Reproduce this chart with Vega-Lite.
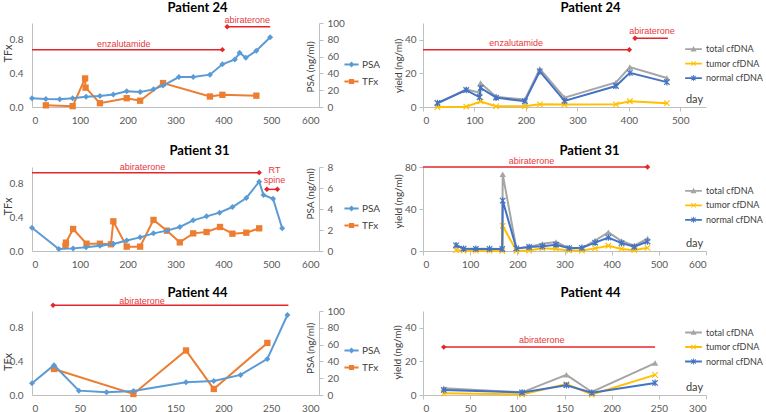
{
  "$schema": "https://vega.github.io/schema/vega-lite/v6.json",
  "padding": {"left": 2, "top": 1, "right": 0, "bottom": 0},
  "background": "white",
  "columns": 2,
  "bounds": "flush",
  "spacing": {"row": 60, "column": 104},
  "resolve": {"scale": {"color": "independent", "shape": "independent"}, "legend": {"color": "independent", "shape": "independent"}},
  "datasets": {
    "kL": [{"s": "PSA"}, {"s": "TFx"}],
    "kR": [{"s": "total cfDNA"}, {"s": "tumor cfDNA"}, {"s": "normal cfDNA"}],
    "l24": [
      {"s":"PSA","day":0,"v":10.3},{"s":"PSA","day":29,"v":9.5},{"s":"PSA","day":58,"v":9.3},{"s":"PSA","day":85,"v":10.3},{"s":"PSA","day":113,"v":12.3},{"s":"PSA","day":142,"v":13},{"s":"PSA","day":170,"v":14.8},{"s":"PSA","day":198,"v":18.8},{"s":"PSA","day":226,"v":18},{"s":"PSA","day":254,"v":21},{"s":"PSA","day":274,"v":25.5},{"s":"PSA","day":307,"v":35.7},{"s":"PSA","day":337,"v":35.7},{"s":"PSA","day":372,"v":38.5},{"s":"PSA","day":398,"v":50.8},{"s":"PSA","day":424,"v":56.5},{"s":"PSA","day":434,"v":64.5},{"s":"PSA","day":447,"v":58.5},{"s":"PSA","day":469,"v":67},{"s":"PSA","day":498,"v":83},
      {"s":"TFx","day":29,"v":0.02},{"s":"TFx","day":85,"v":0.01},{"s":"TFx","day":111,"v":0.34},{"s":"TFx","day":112,"v":0.23},{"s":"TFx","day":142,"v":0.045},{"s":"TFx","day":198,"v":0.105},{"s":"TFx","day":226,"v":0.075},{"s":"TFx","day":274,"v":0.285},{"s":"TFx","day":372,"v":0.125},{"s":"TFx","day":398,"v":0.145},{"s":"TFx","day":469,"v":0.135}
    ],
    "r24": [
      {"s":"total cfDNA","day":28,"v":2},{"s":"total cfDNA","day":84,"v":10.5},{"s":"total cfDNA","day":110,"v":8.5},{"s":"total cfDNA","day":112,"v":14.3},{"s":"total cfDNA","day":142,"v":6.1},{"s":"total cfDNA","day":198,"v":4.4},{"s":"total cfDNA","day":227,"v":22.8},{"s":"total cfDNA","day":275,"v":5.6},{"s":"total cfDNA","day":375,"v":14.6},{"s":"total cfDNA","day":402,"v":23.8},{"s":"total cfDNA","day":474,"v":17.3},
      {"s":"tumor cfDNA","day":28,"v":0},{"s":"tumor cfDNA","day":84,"v":0.2},{"s":"tumor cfDNA","day":112,"v":3.3},{"s":"tumor cfDNA","day":142,"v":0.4},{"s":"tumor cfDNA","day":198,"v":0.5},{"s":"tumor cfDNA","day":227,"v":1.6},{"s":"tumor cfDNA","day":275,"v":1.5},{"s":"tumor cfDNA","day":375,"v":1.6},{"s":"tumor cfDNA","day":402,"v":3.4},{"s":"tumor cfDNA","day":474,"v":2.3},
      {"s":"normal cfDNA","day":28,"v":2.4},{"s":"normal cfDNA","day":84,"v":10.1},{"s":"normal cfDNA","day":110,"v":5.8},{"s":"normal cfDNA","day":112,"v":11.3},{"s":"normal cfDNA","day":142,"v":5.6},{"s":"normal cfDNA","day":198,"v":3.4},{"s":"normal cfDNA","day":227,"v":21.2},{"s":"normal cfDNA","day":275,"v":3.6},{"s":"normal cfDNA","day":375,"v":12.5},{"s":"normal cfDNA","day":402,"v":20.3},{"s":"normal cfDNA","day":474,"v":14.8}
    ],
    "l31": [
      {"s":"PSA","day":0,"v":2.22},{"s":"PSA","day":56,"v":0.19},{"s":"PSA","day":86,"v":0.25},{"s":"PSA","day":113,"v":0.35},{"s":"PSA","day":142,"v":0.5},{"s":"PSA","day":170,"v":0.67},{"s":"PSA","day":198,"v":1.0},{"s":"PSA","day":226,"v":1.3},{"s":"PSA","day":254,"v":1.68},{"s":"PSA","day":282,"v":1.94},{"s":"PSA","day":309,"v":2.29},{"s":"PSA","day":337,"v":2.92},{"s":"PSA","day":365,"v":3.3},{"s":"PSA","day":392,"v":3.65},{"s":"PSA","day":419,"v":4.19},{"s":"PSA","day":448,"v":5.05},{"s":"PSA","day":475,"v":6.6},{"s":"PSA","day":484,"v":5.33},{"s":"PSA","day":504,"v":4.98},{"s":"PSA","day":523,"v":2.16},
      {"s":"TFx","day":70,"v":0.06},{"s":"TFx","day":71,"v":0.1},{"s":"TFx","day":86,"v":0.262},{"s":"TFx","day":114,"v":0.087},{"s":"TFx","day":142,"v":0.087},{"s":"TFx","day":165,"v":0.08},{"s":"TFx","day":170,"v":0.353},{"s":"TFx","day":198,"v":0.052},{"s":"TFx","day":226,"v":0.052},{"s":"TFx","day":254,"v":0.37},{"s":"TFx","day":282,"v":0.242},{"s":"TFx","day":309,"v":0.103},{"s":"TFx","day":337,"v":0.21},{"s":"TFx","day":365,"v":0.226},{"s":"TFx","day":393,"v":0.286},{"s":"TFx","day":419,"v":0.206},{"s":"TFx","day":448,"v":0.218},{"s":"TFx","day":475,"v":0.27}
    ],
    "r31": [
      {"s":"total cfDNA","day":70,"v":6},{"s":"total cfDNA","day":86,"v":2.5},{"s":"total cfDNA","day":112,"v":2.2},{"s":"total cfDNA","day":141,"v":2.2},{"s":"total cfDNA","day":168,"v":2},{"s":"total cfDNA","day":169,"v":73},{"s":"total cfDNA","day":198,"v":2.5},{"s":"total cfDNA","day":225,"v":3.8},{"s":"total cfDNA","day":253,"v":7},{"s":"total cfDNA","day":282,"v":8.5},{"s":"total cfDNA","day":310,"v":2.7},{"s":"total cfDNA","day":337,"v":3},{"s":"total cfDNA","day":365,"v":10},{"s":"total cfDNA","day":393,"v":17.8},{"s":"total cfDNA","day":421,"v":9.5},{"s":"total cfDNA","day":448,"v":5},{"s":"total cfDNA","day":476,"v":11.8},
      {"s":"tumor cfDNA","day":70,"v":0.8},{"s":"tumor cfDNA","day":86,"v":0.5},{"s":"tumor cfDNA","day":112,"v":0.3},{"s":"tumor cfDNA","day":141,"v":0.3},{"s":"tumor cfDNA","day":168,"v":0.2},{"s":"tumor cfDNA","day":169,"v":24},{"s":"tumor cfDNA","day":198,"v":0.2},{"s":"tumor cfDNA","day":225,"v":0.5},{"s":"tumor cfDNA","day":253,"v":2.5},{"s":"tumor cfDNA","day":282,"v":2},{"s":"tumor cfDNA","day":310,"v":0.5},{"s":"tumor cfDNA","day":337,"v":0.5},{"s":"tumor cfDNA","day":365,"v":2.5},{"s":"tumor cfDNA","day":393,"v":5},{"s":"tumor cfDNA","day":421,"v":2},{"s":"tumor cfDNA","day":448,"v":0.8},{"s":"tumor cfDNA","day":476,"v":3},
      {"s":"normal cfDNA","day":70,"v":5.4},{"s":"normal cfDNA","day":86,"v":2.2},{"s":"normal cfDNA","day":112,"v":2},{"s":"normal cfDNA","day":141,"v":2},{"s":"normal cfDNA","day":168,"v":1.9},{"s":"normal cfDNA","day":169,"v":48},{"s":"normal cfDNA","day":198,"v":2.5},{"s":"normal cfDNA","day":225,"v":3.8},{"s":"normal cfDNA","day":253,"v":4.5},{"s":"normal cfDNA","day":282,"v":6},{"s":"normal cfDNA","day":310,"v":2.7},{"s":"normal cfDNA","day":337,"v":3},{"s":"normal cfDNA","day":365,"v":8},{"s":"normal cfDNA","day":393,"v":12.8},{"s":"normal cfDNA","day":421,"v":7.5},{"s":"normal cfDNA","day":448,"v":4},{"s":"normal cfDNA","day":476,"v":9}
    ],
    "l44": [
      {"s":"PSA","day":0,"v":14},{"s":"PSA","day":23,"v":35.5},{"s":"PSA","day":49,"v":5.2},{"s":"PSA","day":78,"v":3.2},{"s":"PSA","day":106,"v":4.8},{"s":"PSA","day":161,"v":15.1},{"s":"PSA","day":190,"v":16.7},{"s":"PSA","day":218,"v":23.9},{"s":"PSA","day":246,"v":43},{"s":"PSA","day":267,"v":95.2},
      {"s":"TFx","day":23,"v":0.31},{"s":"TFx","day":106,"v":0.012},{"s":"TFx","day":161,"v":0.53},{"s":"TFx","day":190,"v":0.072},{"s":"TFx","day":246,"v":0.62}
    ],
    "r44": [
      {"s":"total cfDNA","day":22,"v":4},{"s":"total cfDNA","day":105,"v":1.6},{"s":"total cfDNA","day":152,"v":12},{"s":"total cfDNA","day":179,"v":1.8},{"s":"total cfDNA","day":246,"v":19},
      {"s":"tumor cfDNA","day":22,"v":1},{"s":"tumor cfDNA","day":105,"v":0.3},{"s":"tumor cfDNA","day":152,"v":6.5},{"s":"tumor cfDNA","day":179,"v":0.3},{"s":"tumor cfDNA","day":246,"v":12},
      {"s":"normal cfDNA","day":22,"v":3},{"s":"normal cfDNA","day":105,"v":1.5},{"s":"normal cfDNA","day":152,"v":5.8},{"s":"normal cfDNA","day":179,"v":1.3},{"s":"normal cfDNA","day":246,"v":7.2}
    ]
  },
  "concat": [
    {
      "width": 287, "height": 84,
      "title": {"text": "Patient 24", "dx": 22, "offset": 1, "anchor": "middle", "frame": "group"},
      "layer": [
        {"layer": [
          {"data": {"name": "l24"}, "transform": [{"filter": {"field": "s", "equal": "TFx"}}],
           "mark": {"type": "line", "color": "#ed7d31", "strokeWidth": 2, "point": {"shape": "square", "size": 40, "filled": true, "color": "#ed7d31"}},
           "encoding": {
             "x": {"field": "day", "type": "quantitative", "scale": {"domain": [0, 600], "nice": false}, "axis": {"values": [0,100,200,300,400,500,600], "title": null, "ticks": false, "tickSize": 0, "labelPadding": 8, "labelOverlap": false}},
             "y": {"field": "v", "type": "quantitative", "scale": {"domain": [0, 1], "nice": false}, "axis": {"values": [0,0.2,0.4,0.6,0.8,1], "format": ".1f", "title": "TFx", "ticks": false, "tickSize": 0, "labelPadding": 9, "labelOverlap": false, "titleX": -23.5, "titleY": 30, "titleAngle": 270, "titleAlign": "center", "titleBaseline": "middle", "titleFontSize": 11}}
           }},
          {"data": {"values": [{"a": 0, "b": 398, "lv": 0.683}, {"a": 408, "b": 498, "lv": 0.956}]},
           "mark": {"type": "rule", "color": "#e3262a", "strokeWidth": 1.5},
           "encoding": {"x": {"field": "a", "type": "quantitative"}, "x2": {"field": "b"}, "y": {"field": "lv", "type": "quantitative"}}},
          {"data": {"values": [{"a": 398, "lv": 0.683}, {"a": 408, "lv": 0.956}]},
           "mark": {"type": "point", "shape": "diamond", "filled": true, "color": "#e3262a", "size": 30, "opacity": 1},
           "encoding": {"x": {"field": "a", "type": "quantitative"}, "y": {"field": "lv", "type": "quantitative"}}},
          {"data": {"values": [{"t": "enzalutamide", "a": 192, "lv": 0.75}, {"t": "abiraterone", "a": 450, "lv": 1.04}]},
           "mark": {"type": "text", "color": "#e8383d", "font": "Liberation Sans", "fontSize": 9, "baseline": "middle"},
           "encoding": {"x": {"field": "a", "type": "quantitative"}, "y": {"field": "lv", "type": "quantitative"}, "text": {"field": "t", "type": "nominal"}}},
          {"data": {"name": "kL"},
           "mark": {"type": "point", "filled": true, "opacity": 0},
           "encoding": {
             "color": {"field": "s", "type": "nominal", "scale": {"domain": ["PSA", "TFx"], "range": ["#5b9bd5", "#ed7d31"]},
               "legend": {"orient": "none", "legendX": 312, "legendY": 34, "title": null, "labelFontSize": 10, "labelColor": "#404040", "symbolSize": 200, "symbolOpacity": 1, "symbolStrokeWidth": 0, "rowPadding": 4, "labelOffset": 3}},
             "shape": {"field": "s", "type": "nominal", "scale": {"domain": ["PSA", "TFx"], "range": ["M-1,-0.14H1V0.14H-1ZM0,-0.42L0.42,0L0,0.42L-0.42,0Z", "M-1,-0.14H1V0.14H-1ZM-0.36,-0.36H0.36V0.36H-0.36Z"]},
               "legend": {"orient": "none", "legendX": 312, "legendY": 34, "title": null, "labelFontSize": 10, "labelColor": "#404040", "symbolSize": 200, "symbolOpacity": 1, "symbolStrokeWidth": 0, "rowPadding": 4, "labelOffset": 3}}
           }}
        ]},
        {"data": {"name": "l24"}, "transform": [{"filter": {"field": "s", "equal": "PSA"}}],
         "mark": {"type": "line", "color": "#5b9bd5", "strokeWidth": 2, "point": {"shape": "diamond", "size": 36, "filled": true, "color": "#5b9bd5"}},
         "encoding": {
           "x": {"field": "day", "type": "quantitative"},
           "y": {"field": "v", "type": "quantitative", "scale": {"domain": [0, 100], "nice": false}, "axis": {"orient": "right", "values": [0,20,40,60,80,100], "title": "PSA (ng/ml)", "labelPadding": 4, "labelOverlap": false, "titleX": -9, "titleY": 43.5, "titleAngle": 270, "titleAlign": "center", "titleBaseline": "middle"}}
         }}
      ],
      "resolve": {"scale": {"y": "independent"}}
    },
    {
      "width": 283, "height": 84,
      "title": {"text": "Patient 24", "dx": 26, "offset": 8, "anchor": "middle", "frame": "group"},
      "layer": [
        {"data": {"name": "r24"}, "transform": [{"filter": {"field": "s", "equal": "total cfDNA"}}],
         "mark": {"type": "line", "color": "#a5a5a5", "strokeWidth": 2, "point": {"shape": "triangle-up", "size": 40, "filled": true, "color": "#a5a5a5"}},
         "encoding": {
           "x": {"field": "day", "type": "quantitative", "scale": {"domain": [0, 550], "nice": false}, "axis": {"values": [0,100,200,300,400,500], "title": "day", "labelPadding": 4, "labelOverlap": false, "titleX": 271, "titleY": -8, "titleAlign": "center", "titleBaseline": "middle", "titleFontSize": 11}},
           "y": {"field": "v", "type": "quantitative", "scale": {"domain": [0, 50], "nice": false}, "axis": {"values": [0,10,20,30,40,50], "labelOverlap": false, "title": "yield (ng/ml)", "titleX": -25, "titleY": 42.5, "titleAngle": 270, "titleAlign": "center", "titleBaseline": "middle"}}
         }},
        {"data": {"name": "r24"}, "transform": [{"filter": {"field": "s", "equal": "tumor cfDNA"}}],
         "mark": {"type": "line", "color": "#ffc000", "strokeWidth": 2, "point": {"shape": "M-1,-1L1,1M-1,1L1,-1", "size": 30, "filled": false, "strokeWidth": 1.2, "color": "#ffc000"}},
         "encoding": {"x": {"field": "day", "type": "quantitative"}, "y": {"field": "v", "type": "quantitative"}}},
        {"data": {"name": "r24"}, "transform": [{"filter": {"field": "s", "equal": "normal cfDNA"}}],
         "mark": {"type": "line", "color": "#4472c4", "strokeWidth": 2, "point": {"shape": "M-1,-1L1,1M-1,1L1,-1M0,-1.2V1.2", "size": 30, "filled": false, "strokeWidth": 1.2, "color": "#4472c4"}},
         "encoding": {"x": {"field": "day", "type": "quantitative"}, "y": {"field": "v", "type": "quantitative"}}},
        {"data": {"values": [{"a": 0, "b": 401, "lv": 34.1}, {"a": 412, "b": 476, "lv": 40.9}]},
         "mark": {"type": "rule", "color": "#e3262a", "strokeWidth": 1.5},
         "encoding": {"x": {"field": "a", "type": "quantitative"}, "x2": {"field": "b"}, "y": {"field": "lv", "type": "quantitative"}}},
        {"data": {"values": [{"a": 401, "lv": 34.1}, {"a": 412, "lv": 40.9}]},
         "mark": {"type": "point", "shape": "diamond", "filled": true, "color": "#e3262a", "size": 30, "opacity": 1},
         "encoding": {"x": {"field": "a", "type": "quantitative"}, "y": {"field": "lv", "type": "quantitative"}}},
        {"data": {"values": [{"t": "enzalutamide", "a": 181, "lv": 38.1}, {"t": "abiraterone", "a": 445, "lv": 45.4}]},
         "mark": {"type": "text", "color": "#e8383d", "font": "Liberation Sans", "fontSize": 9, "baseline": "middle"},
         "encoding": {"x": {"field": "a", "type": "quantitative"}, "y": {"field": "lv", "type": "quantitative"}, "text": {"field": "t", "type": "nominal"}}},
        {"data": {"name": "kR"},
         "mark": {"type": "point", "filled": true, "opacity": 0},
         "encoding": {
           "color": {"field": "s", "type": "nominal", "scale": {"domain": ["total cfDNA", "tumor cfDNA", "normal cfDNA"], "range": ["#a5a5a5", "#ffc000", "#4472c4"]},
             "legend": {"orient": "none", "legendX": 262, "legendY": 17.6, "title": null, "labelFontSize": 9, "labelColor": "#404040", "symbolSize": 280, "symbolOpacity": 1, "symbolStrokeWidth": 0, "rowPadding": 0.5, "labelOffset": 4}},
           "shape": {"field": "s", "type": "nominal", "scale": {"domain": ["total cfDNA", "tumor cfDNA", "normal cfDNA"], "range": ["M-1,-0.11H1V0.11H-1ZM0,-0.36L0.36,0.28H-0.36Z", "M-1,-0.11H1V0.11H-1ZM-0.3,-0.22L-0.22,-0.3L0.3,0.22L0.22,0.3ZM0.22,-0.3L0.3,-0.22L-0.22,0.3L-0.3,0.22Z", "M-1,-0.11H1V0.11H-1ZM-0.3,-0.22L-0.22,-0.3L0.3,0.22L0.22,0.3ZM0.22,-0.3L0.3,-0.22L-0.22,0.3L-0.3,0.22ZM-0.05,-0.36H0.05V0.36H-0.05Z"]},
             "legend": {"orient": "none", "legendX": 262, "legendY": 17.6, "title": null, "labelFontSize": 9, "labelColor": "#404040", "symbolSize": 280, "symbolOpacity": 1, "symbolStrokeWidth": 0, "rowPadding": 0.5, "labelOffset": 4}}
         }}
      ]
    },
    {
      "width": 287, "height": 84,
      "title": {"text": "Patient 31", "dx": 24, "offset": 4, "anchor": "middle", "frame": "group"},
      "layer": [
        {"layer": [
          {"data": {"name": "l31"}, "transform": [{"filter": {"field": "s", "equal": "TFx"}}],
           "mark": {"type": "line", "color": "#ed7d31", "strokeWidth": 2, "point": {"shape": "square", "size": 40, "filled": true, "color": "#ed7d31"}},
           "encoding": {
             "x": {"field": "day", "type": "quantitative", "scale": {"domain": [0, 600], "nice": false}, "axis": {"values": [0,100,200,300,400,500,600], "title": null, "ticks": false, "tickSize": 0, "labelPadding": 8, "labelOverlap": false}},
             "y": {"field": "v", "type": "quantitative", "scale": {"domain": [0, 1], "nice": false}, "axis": {"values": [0,0.2,0.4,0.6,0.8,1], "format": ".1f", "title": "TFx", "ticks": false, "tickSize": 0, "labelPadding": 9, "labelOverlap": false, "titleX": -23.5, "titleY": 39, "titleAngle": 270, "titleAlign": "center", "titleBaseline": "middle", "titleFontSize": 11}}
           }},
          {"data": {"values": [{"a": 0, "b": 475, "lv": 0.933}, {"a": 491, "b": 513, "lv": 0.734}]},
           "mark": {"type": "rule", "color": "#e3262a", "strokeWidth": 1.5},
           "encoding": {"x": {"field": "a", "type": "quantitative"}, "x2": {"field": "b"}, "y": {"field": "lv", "type": "quantitative"}}},
          {"data": {"values": [{"a": 475, "lv": 0.933}, {"a": 491, "lv": 0.734}, {"a": 513, "lv": 0.734}]},
           "mark": {"type": "point", "shape": "diamond", "filled": true, "color": "#e3262a", "size": 30, "opacity": 1},
           "encoding": {"x": {"field": "a", "type": "quantitative"}, "y": {"field": "lv", "type": "quantitative"}}},
          {"data": {"values": [{"t": "abiraterone", "a": 231, "lv": 0.996}, {"t": "RT", "a": 507, "lv": 0.968}, {"t": "spine", "a": 507, "lv": 0.845}]},
           "mark": {"type": "text", "color": "#e8383d", "font": "Liberation Sans", "fontSize": 9, "baseline": "middle"},
           "encoding": {"x": {"field": "a", "type": "quantitative"}, "y": {"field": "lv", "type": "quantitative"}, "text": {"field": "t", "type": "nominal"}}},
          {"data": {"name": "kL"},
           "mark": {"type": "point", "filled": true, "opacity": 0},
           "encoding": {
             "color": {"field": "s", "type": "nominal", "scale": {"domain": ["PSA", "TFx"], "range": ["#5b9bd5", "#ed7d31"]},
               "legend": {"orient": "none", "legendX": 312, "legendY": 34, "title": null, "labelFontSize": 10, "labelColor": "#404040", "symbolSize": 200, "symbolOpacity": 1, "symbolStrokeWidth": 0, "rowPadding": 4, "labelOffset": 3}},
             "shape": {"field": "s", "type": "nominal", "scale": {"domain": ["PSA", "TFx"], "range": ["M-1,-0.14H1V0.14H-1ZM0,-0.42L0.42,0L0,0.42L-0.42,0Z", "M-1,-0.14H1V0.14H-1ZM-0.36,-0.36H0.36V0.36H-0.36Z"]},
               "legend": {"orient": "none", "legendX": 312, "legendY": 34, "title": null, "labelFontSize": 10, "labelColor": "#404040", "symbolSize": 200, "symbolOpacity": 1, "symbolStrokeWidth": 0, "rowPadding": 4, "labelOffset": 3}}
           }}
        ]},
        {"data": {"name": "l31"}, "transform": [{"filter": {"field": "s", "equal": "PSA"}}],
         "mark": {"type": "line", "color": "#5b9bd5", "strokeWidth": 2, "point": {"shape": "diamond", "size": 36, "filled": true, "color": "#5b9bd5"}},
         "encoding": {
           "x": {"field": "day", "type": "quantitative"},
           "y": {"field": "v", "type": "quantitative", "scale": {"domain": [0, 8], "nice": false}, "axis": {"orient": "right", "values": [0,2,4,6,8], "title": "PSA (ng/ml)", "labelPadding": 4, "labelOverlap": false, "titleX": -9, "titleY": 26.5, "titleAngle": 270, "titleAlign": "center", "titleBaseline": "middle"}}
         }}
      ],
      "resolve": {"scale": {"y": "independent"}}
    },
    {
      "width": 283, "height": 84,
      "title": {"text": "Patient 31", "dx": 25, "offset": -1, "anchor": "middle", "frame": "group"},
      "layer": [
        {"data": {"name": "r31"}, "transform": [{"filter": {"field": "s", "equal": "total cfDNA"}}],
         "mark": {"type": "line", "color": "#a5a5a5", "strokeWidth": 2, "point": {"shape": "triangle-up", "size": 40, "filled": true, "color": "#a5a5a5"}},
         "encoding": {
           "x": {"field": "day", "type": "quantitative", "scale": {"domain": [0, 600], "nice": false}, "axis": {"values": [0,100,200,300,400,500,600], "title": "day", "labelPadding": 4, "labelOverlap": false, "titleX": 271, "titleY": -8, "titleAlign": "center", "titleBaseline": "middle", "titleFontSize": 11}},
           "y": {"field": "v", "type": "quantitative", "scale": {"domain": [0, 80], "nice": false}, "axis": {"values": [0,20,40,60,80], "labelOverlap": false, "title": "yield (ng/ml)", "titleX": -25, "titleY": 34, "titleAngle": 270, "titleAlign": "center", "titleBaseline": "middle"}}
         }},
        {"data": {"name": "r31"}, "transform": [{"filter": {"field": "s", "equal": "tumor cfDNA"}}],
         "mark": {"type": "line", "color": "#ffc000", "strokeWidth": 2, "point": {"shape": "M-1,-1L1,1M-1,1L1,-1", "size": 30, "filled": false, "strokeWidth": 1.2, "color": "#ffc000"}},
         "encoding": {"x": {"field": "day", "type": "quantitative"}, "y": {"field": "v", "type": "quantitative"}}},
        {"data": {"name": "r31"}, "transform": [{"filter": {"field": "s", "equal": "normal cfDNA"}}],
         "mark": {"type": "line", "color": "#4472c4", "strokeWidth": 2, "point": {"shape": "M-1,-1L1,1M-1,1L1,-1M0,-1.2V1.2", "size": 30, "filled": false, "strokeWidth": 1.2, "color": "#4472c4"}},
         "encoding": {"x": {"field": "day", "type": "quantitative"}, "y": {"field": "v", "type": "quantitative"}}},
        {"data": {"values": [{"a": 0, "b": 476, "lv": 80}]},
         "mark": {"type": "rule", "color": "#e3262a", "strokeWidth": 1.5},
         "encoding": {"x": {"field": "a", "type": "quantitative"}, "x2": {"field": "b"}, "y": {"field": "lv", "type": "quantitative"}}},
        {"data": {"values": [{"a": 476, "lv": 80}]},
         "mark": {"type": "point", "shape": "diamond", "filled": true, "color": "#e3262a", "size": 30, "opacity": 1},
         "encoding": {"x": {"field": "a", "type": "quantitative"}, "y": {"field": "lv", "type": "quantitative"}}},
        {"data": {"values": [{"t": "abiraterone", "a": 230, "lv": 85.4}]},
         "mark": {"type": "text", "color": "#e8383d", "font": "Liberation Sans", "fontSize": 9, "baseline": "middle"},
         "encoding": {"x": {"field": "a", "type": "quantitative"}, "y": {"field": "lv", "type": "quantitative"}, "text": {"field": "t", "type": "nominal"}}},
        {"data": {"name": "kR"},
         "mark": {"type": "point", "filled": true, "opacity": 0},
         "encoding": {
           "color": {"field": "s", "type": "nominal", "scale": {"domain": ["total cfDNA", "tumor cfDNA", "normal cfDNA"], "range": ["#a5a5a5", "#ffc000", "#4472c4"]},
             "legend": {"orient": "none", "legendX": 262, "legendY": 15.3, "title": null, "labelFontSize": 9, "labelColor": "#404040", "symbolSize": 280, "symbolOpacity": 1, "symbolStrokeWidth": 0, "rowPadding": 0.5, "labelOffset": 4}},
           "shape": {"field": "s", "type": "nominal", "scale": {"domain": ["total cfDNA", "tumor cfDNA", "normal cfDNA"], "range": ["M-1,-0.11H1V0.11H-1ZM0,-0.36L0.36,0.28H-0.36Z", "M-1,-0.11H1V0.11H-1ZM-0.3,-0.22L-0.22,-0.3L0.3,0.22L0.22,0.3ZM0.22,-0.3L0.3,-0.22L-0.22,0.3L-0.3,0.22Z", "M-1,-0.11H1V0.11H-1ZM-0.3,-0.22L-0.22,-0.3L0.3,0.22L0.22,0.3ZM0.22,-0.3L0.3,-0.22L-0.22,0.3L-0.3,0.22ZM-0.05,-0.36H0.05V0.36H-0.05Z"]},
             "legend": {"orient": "none", "legendX": 262, "legendY": 15.3, "title": null, "labelFontSize": 9, "labelColor": "#404040", "symbolSize": 280, "symbolOpacity": 1, "symbolStrokeWidth": 0, "rowPadding": 0.5, "labelOffset": 4}}
         }}
      ]
    },
    {
      "width": 287, "height": 84,
      "title": {"text": "Patient 44", "dx": 22, "offset": -3, "anchor": "middle", "frame": "group"},
      "layer": [
        {"layer": [
          {"data": {"name": "l44"}, "transform": [{"filter": {"field": "s", "equal": "TFx"}}],
           "mark": {"type": "line", "color": "#ed7d31", "strokeWidth": 2, "point": {"shape": "square", "size": 40, "filled": true, "color": "#ed7d31"}},
           "encoding": {
             "x": {"field": "day", "type": "quantitative", "scale": {"domain": [0, 300], "nice": false}, "axis": {"values": [0,50,100,150,200,250,300], "title": null, "ticks": false, "tickSize": 0, "labelPadding": 8, "labelOverlap": false}},
             "y": {"field": "v", "type": "quantitative", "scale": {"domain": [0, 1], "nice": false}, "axis": {"values": [0,0.2,0.4,0.6,0.8,1], "format": ".1f", "title": "TFx", "ticks": false, "tickSize": 0, "labelPadding": 9, "labelOverlap": false, "titleX": -23.5, "titleY": 50.5, "titleAngle": 270, "titleAlign": "center", "titleBaseline": "middle", "titleFontSize": 11}}
           }},
          {"data": {"values": [{"a": 22, "b": 268, "lv": 1.068}]},
           "mark": {"type": "rule", "color": "#e3262a", "strokeWidth": 1.5},
           "encoding": {"x": {"field": "a", "type": "quantitative"}, "x2": {"field": "b"}, "y": {"field": "lv", "type": "quantitative"}}},
          {"data": {"values": [{"a": 22, "lv": 1.068}]},
           "mark": {"type": "point", "shape": "diamond", "filled": true, "color": "#e3262a", "size": 30, "opacity": 1},
           "encoding": {"x": {"field": "a", "type": "quantitative"}, "y": {"field": "lv", "type": "quantitative"}}},
          {"data": {"values": [{"t": "abiraterone", "a": 115, "lv": 1.12}]},
           "mark": {"type": "text", "color": "#e8383d", "font": "Liberation Sans", "fontSize": 9, "baseline": "middle"},
           "encoding": {"x": {"field": "a", "type": "quantitative"}, "y": {"field": "lv", "type": "quantitative"}, "text": {"field": "t", "type": "nominal"}}},
          {"data": {"name": "kL"},
           "mark": {"type": "point", "filled": true, "opacity": 0},
           "encoding": {
             "color": {"field": "s", "type": "nominal", "scale": {"domain": ["PSA", "TFx"], "range": ["#5b9bd5", "#ed7d31"]},
               "legend": {"orient": "none", "legendX": 312, "legendY": 32, "title": null, "labelFontSize": 10, "labelColor": "#404040", "symbolSize": 200, "symbolOpacity": 1, "symbolStrokeWidth": 0, "rowPadding": 4, "labelOffset": 3}},
             "shape": {"field": "s", "type": "nominal", "scale": {"domain": ["PSA", "TFx"], "range": ["M-1,-0.14H1V0.14H-1ZM0,-0.42L0.42,0L0,0.42L-0.42,0Z", "M-1,-0.14H1V0.14H-1ZM-0.36,-0.36H0.36V0.36H-0.36Z"]},
               "legend": {"orient": "none", "legendX": 312, "legendY": 32, "title": null, "labelFontSize": 10, "labelColor": "#404040", "symbolSize": 200, "symbolOpacity": 1, "symbolStrokeWidth": 0, "rowPadding": 4, "labelOffset": 3}}
           }}
        ]},
        {"data": {"name": "l44"}, "transform": [{"filter": {"field": "s", "equal": "PSA"}}],
         "mark": {"type": "line", "color": "#5b9bd5", "strokeWidth": 2, "point": {"shape": "diamond", "size": 36, "filled": true, "color": "#5b9bd5"}},
         "encoding": {
           "x": {"field": "day", "type": "quantitative"},
           "y": {"field": "v", "type": "quantitative", "scale": {"domain": [0, 100], "nice": false}, "axis": {"orient": "right", "values": [0,20,40,60,80,100], "title": "PSA (ng/ml)", "labelPadding": 4, "labelOverlap": false, "titleX": -9, "titleY": 37, "titleAngle": 270, "titleAlign": "center", "titleBaseline": "middle"}}
         }}
      ],
      "resolve": {"scale": {"y": "independent"}}
    },
    {
      "width": 283, "height": 84,
      "title": {"text": "Patient 44", "dx": 26, "offset": 11, "anchor": "middle", "frame": "group"},
      "layer": [
        {"data": {"name": "r44"}, "transform": [{"filter": {"field": "s", "equal": "total cfDNA"}}],
         "mark": {"type": "line", "color": "#a5a5a5", "strokeWidth": 2, "point": {"shape": "triangle-up", "size": 40, "filled": true, "color": "#a5a5a5"}},
         "encoding": {
           "x": {"field": "day", "type": "quantitative", "scale": {"domain": [0, 300], "nice": false}, "axis": {"values": [0,50,100,150,200,250,300], "title": "day", "labelPadding": 4, "labelOverlap": false, "titleX": 271, "titleY": -8, "titleAlign": "center", "titleBaseline": "middle", "titleFontSize": 11}},
           "y": {"field": "v", "type": "quantitative", "scale": {"domain": [0, 50], "nice": false}, "axis": {"values": [0,10,20,30,40,50], "labelOverlap": false, "title": "yield (ng/ml)", "titleX": -26, "titleY": 41, "titleAngle": 270, "titleAlign": "center", "titleBaseline": "middle"}}
         }},
        {"data": {"name": "r44"}, "transform": [{"filter": {"field": "s", "equal": "tumor cfDNA"}}],
         "mark": {"type": "line", "color": "#ffc000", "strokeWidth": 2, "point": {"shape": "M-1,-1L1,1M-1,1L1,-1", "size": 30, "filled": false, "strokeWidth": 1.2, "color": "#ffc000"}},
         "encoding": {"x": {"field": "day", "type": "quantitative"}, "y": {"field": "v", "type": "quantitative"}}},
        {"data": {"name": "r44"}, "transform": [{"filter": {"field": "s", "equal": "normal cfDNA"}}],
         "mark": {"type": "line", "color": "#4472c4", "strokeWidth": 2, "point": {"shape": "M-1,-1L1,1M-1,1L1,-1M0,-1.2V1.2", "size": 30, "filled": false, "strokeWidth": 1.2, "color": "#4472c4"}},
         "encoding": {"x": {"field": "day", "type": "quantitative"}, "y": {"field": "v", "type": "quantitative"}}},
        {"data": {"values": [{"a": 22, "b": 246, "lv": 28.5}]},
         "mark": {"type": "rule", "color": "#e3262a", "strokeWidth": 1.5},
         "encoding": {"x": {"field": "a", "type": "quantitative"}, "x2": {"field": "b"}, "y": {"field": "lv", "type": "quantitative"}}},
        {"data": {"values": [{"a": 22, "lv": 28.5}]},
         "mark": {"type": "point", "shape": "diamond", "filled": true, "color": "#e3262a", "size": 30, "opacity": 1},
         "encoding": {"x": {"field": "a", "type": "quantitative"}, "y": {"field": "lv", "type": "quantitative"}}},
        {"data": {"values": [{"t": "abiraterone", "a": 126, "lv": 32.7}]},
         "mark": {"type": "text", "color": "#e8383d", "font": "Liberation Sans", "fontSize": 9, "baseline": "middle"},
         "encoding": {"x": {"field": "a", "type": "quantitative"}, "y": {"field": "lv", "type": "quantitative"}, "text": {"field": "t", "type": "nominal"}}},
        {"data": {"name": "kR"},
         "mark": {"type": "point", "filled": true, "opacity": 0},
         "encoding": {
           "color": {"field": "s", "type": "nominal", "scale": {"domain": ["total cfDNA", "tumor cfDNA", "normal cfDNA"], "range": ["#a5a5a5", "#ffc000", "#4472c4"]},
             "legend": {"orient": "none", "legendX": 262, "legendY": 13, "title": null, "labelFontSize": 9, "labelColor": "#404040", "symbolSize": 280, "symbolOpacity": 1, "symbolStrokeWidth": 0, "rowPadding": 0.5, "labelOffset": 4}},
           "shape": {"field": "s", "type": "nominal", "scale": {"domain": ["total cfDNA", "tumor cfDNA", "normal cfDNA"], "range": ["M-1,-0.11H1V0.11H-1ZM0,-0.36L0.36,0.28H-0.36Z", "M-1,-0.11H1V0.11H-1ZM-0.3,-0.22L-0.22,-0.3L0.3,0.22L0.22,0.3ZM0.22,-0.3L0.3,-0.22L-0.22,0.3L-0.3,0.22Z", "M-1,-0.11H1V0.11H-1ZM-0.3,-0.22L-0.22,-0.3L0.3,0.22L0.22,0.3ZM0.22,-0.3L0.3,-0.22L-0.22,0.3L-0.3,0.22ZM-0.05,-0.36H0.05V0.36H-0.05Z"]},
             "legend": {"orient": "none", "legendX": 262, "legendY": 13, "title": null, "labelFontSize": 9, "labelColor": "#404040", "symbolSize": 280, "symbolOpacity": 1, "symbolStrokeWidth": 0, "rowPadding": 0.5, "labelOffset": 4}}
         }}
      ]
    }
  ],
  "config": {
    "view": {"stroke": null},
    "font": "Lato",
    "axis": {"labelFont": "Lato", "labelFontSize": 10, "labelColor": "#595959", "titleFont": "Lato", "titleFontSize": 10, "titleFontWeight": "normal", "titleColor": "#404040", "domainColor": "#bfbfbf", "tickColor": "#bfbfbf", "grid": false, "tickSize": 4, "labelPadding": 3, "labelOverlap": false},
    "legend": {"labelFont": "Lato"},
    "title": {"font": "Lato", "fontSize": 13, "fontWeight": "bold", "color": "#000000"}
  }
}
